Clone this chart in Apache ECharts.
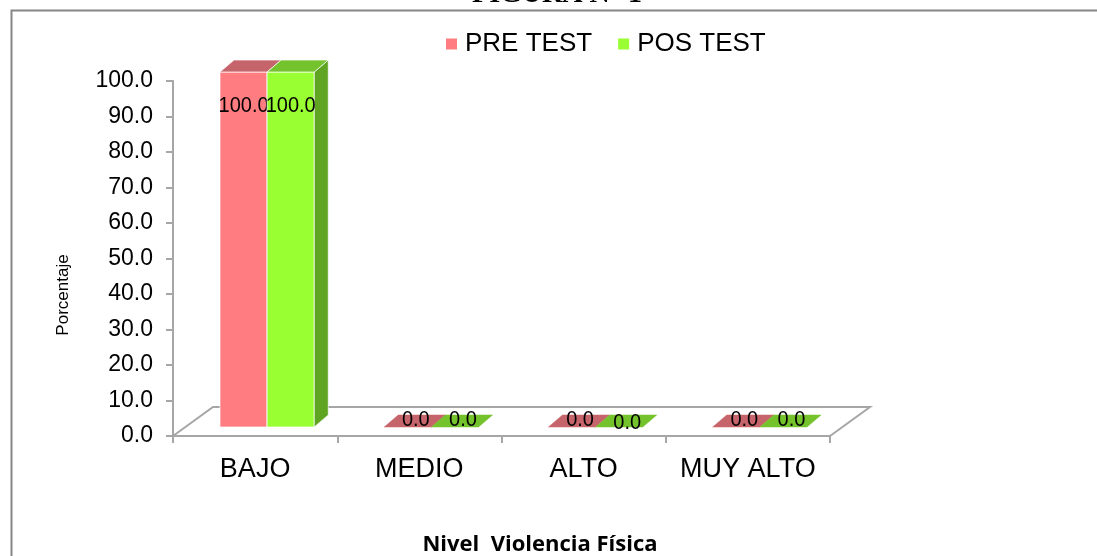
<!DOCTYPE html>
<html>
<head>
<meta charset="utf-8">
<script src="https://cdn.jsdelivr.net/npm/echarts@6/dist/echarts.min.js"></script>
<style>
html,body{margin:0;padding:0;background:#fff;}
#chart{width:1097px;height:556px;}
</style>
</head>
<body>
<div id="chart"></div>
<script>
// ---- data ----
var categories = ['BAJO', 'MEDIO', 'ALTO', 'MUY ALTO'];
var seriesNames = ['PRE TEST', 'POS TEST'];
var preTest = [100.0, 0.0, 0.0, 0.0];
var posTest = [100.0, 0.0, 0.0, 0.0];
var yMin = 0, yMax = 100, yInterval = 10;
var titleText = 'FIGURA N° 1';
var yAxisName = 'Porcentaje';
var xAxisName = 'Nivel  Violencia Física';

// ---- styling ----
var AXIS_COLOR = '#A6A6A6';
var FLOOR_DX = 40, FLOOR_DY = -29;   // depth of floor
var OX = 12, OY = -9;                // front plane of bars
var DX = 14, DY = -12;               // depth of bars
var BAR_FRAC = 0.287;
var palettes = [
  {front: '#FF7C80', top: '#C6646B', side: '#B0555C'},
  {front: '#99FF33', top: '#74C22C', side: '#5FA522'}
];

function makeRender(si) {
  var pal = palettes[si];
  return function (params, api) {
    var ci = api.value(0), v = api.value(1);
    var base = api.coord([ci, 0]);
    var topc = api.coord([ci, v]);
    var band = api.size([1, 0])[0];
    var w = band * BAR_FRAC;
    var cx = base[0] + OX;
    var x0 = si === 0 ? cx - w : cx;
    var yb = base[1] + OY, yt = topc[1] + OY;
    var children = [];
    var edge = {stroke: 'rgba(255,255,255,0.7)', lineWidth: 1};
    if (v > 0) {
      children.push({type: 'rect', shape: {x: x0, y: yt, width: w, height: yb - yt},
        style: Object.assign({fill: pal.front}, edge)});
      children.push({type: 'polygon', shape: {points: [[x0 + w, yt], [x0 + w + DX, yt + DY], [x0 + w + DX, yb + DY], [x0 + w, yb]]},
        style: Object.assign({fill: pal.side}, edge)});
    }
    children.push({type: 'polygon', shape: {points: [[x0, yt], [x0 + w, yt], [x0 + w + DX, yt + DY], [x0 + DX, yt + DY]]},
      style: Object.assign({fill: pal.top}, v > 0 ? edge : {stroke: pal.top, lineWidth: 0.5})});
    var label = v.toFixed(1);
    var lx, ly;
    if (v > 0) { lx = x0 + w / 2; ly = yt + 34; }
    else { lx = x0 + w / 2 + DX / 2 + 1; ly = yt - 7 + (si === 1 && ci === 2 ? 3 : 0); }
    children.push({type: 'text', x: lx, y: ly, scaleY: 1.1, z2: 10,
      style: {text: label, x: 0, y: 0, align: 'center', verticalAlign: 'middle',
      fill: '#000', font: '20px "Liberation Sans", Arial, sans-serif'}});
    return {type: 'group', children: children};
  };
}

function floorRender(params, api) {
  var band = api.size([1, 0])[0];
  var p0 = api.coord([0, 0]);
  var p1 = api.coord([categories.length - 1, 0]);
  var L = p0[0] - band / 2, R = p1[0] + band / 2, y = p0[1];
  return {type: 'polyline', shape: {points: [[L, y], [L + FLOOR_DX, y + FLOOR_DY], [R + FLOOR_DX, y + FLOOR_DY], [R, y]]},
    style: {stroke: AXIS_COLOR, lineWidth: 2, fill: null}, silent: true};
}

function toData(arr) { return arr.map(function (v, i) { return [i, v]; }); }

var chart = echarts.init(document.getElementById('chart'), null, {renderer: 'canvas'});
chart.setOption({
  animation: false,
  backgroundColor: '#fff',
  textStyle: {fontFamily: '"Liberation Sans", Arial, sans-serif'},
  graphic: [
    {type: 'rect', left: 9, top: 8, shape: {width: 1200, height: 700}, style: {fill: null, stroke: '#868686', lineWidth: 2}, silent: true},
    {type: 'text', x: 557, y: -5, style: {text: titleText, align: 'center', verticalAlign: 'middle', fill: '#000',
      font: 'bold 28px "Liberation Serif", "Times New Roman", serif'}},
    {type: 'text', x: 63, y: 295, rotation: Math.PI / 2, style: {text: yAxisName, align: 'center', verticalAlign: 'middle',
      fill: '#000', font: '17px "Liberation Sans", Arial, sans-serif'}},
    {type: 'text', x: 540, y: 545, style: {text: xAxisName, align: 'center', verticalAlign: 'middle',
      fill: '#000', font: 'bold 22px "Open Sans", sans-serif'}}
  ],
  legend: {
    data: seriesNames,
    left: 441, top: 26,
    icon: 'rect', itemWidth: 11, itemHeight: 11, itemGap: 26,
    textStyle: {fontSize: 26, color: '#000', padding: [0, 0, 0, 3]}
  },
  grid: {left: 173, right: 267, top: 81, bottom: 120, containLabel: false, outerBoundsMode: 'none'},
  xAxis: {
    type: 'category', data: categories,
    axisLine: {lineStyle: {color: AXIS_COLOR, width: 2}},
    axisTick: {show: true, alignWithLabel: false, length: 7, lineStyle: {color: AXIS_COLOR, width: 2}},
    axisLabel: {fontSize: 27, color: '#000', margin: 20, interval: 0}
  },
  yAxis: {
    type: 'value', min: yMin, max: yMax, interval: yInterval,
    axisLine: {show: true, lineStyle: {color: AXIS_COLOR, width: 2}},
    axisTick: {show: true, length: 7, lineStyle: {color: AXIS_COLOR, width: 2}},
    splitLine: {show: false},
    axisLabel: {fontSize: 23, color: '#000', margin: 20, formatter: function (v) { return v.toFixed(1); }}
  },
  series: [
    {type: 'custom', name: 'floor', renderItem: floorRender, data: [[0, 0]], silent: true, z: 1},
    {type: 'custom', name: seriesNames[0], renderItem: makeRender(0), data: toData(preTest),
      itemStyle: {color: palettes[0].front}, encode: {x: 0, y: 1}, z: 3},
    {type: 'custom', name: seriesNames[1], renderItem: makeRender(1), data: toData(posTest),
      itemStyle: {color: palettes[1].front}, encode: {x: 0, y: 1}, z: 4}
  ]
});
</script>
</body>
</html>
